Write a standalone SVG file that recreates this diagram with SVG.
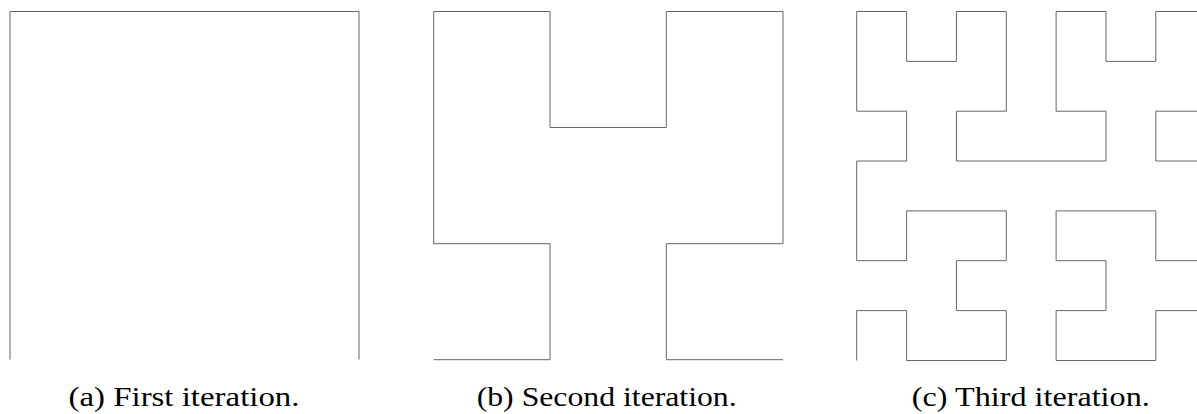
<svg xmlns="http://www.w3.org/2000/svg" width="1197" height="414" viewBox="0 0 1197 414">
<style>
.curve{fill:none;stroke:#666;stroke-width:1;stroke-linejoin:miter}
.cap{font-family:"Liberation Serif","DejaVu Serif",serif;font-size:27px;fill:#000;text-anchor:middle}
</style>
<rect width="1197" height="414" fill="#fff"/>
<g id="panel-a">
<path class="curve" d="M10,359.5 V11.5 H359 V359.5"/>
<text class="cap" x="184" y="406" textLength="231" lengthAdjust="spacingAndGlyphs">(a) First iteration.</text>
</g>
<g id="panel-b">
<path class="curve" d="M433.7,359.7 H550 V243.7 H433.7 V11.5 H550 V127.5 H666.3 V11.5 H783 V243.7 H666.3 V359.7 H783"/>
<text class="cap" x="606.7" y="406" textLength="260" lengthAdjust="spacingAndGlyphs">(b) Second iteration.</text>
</g>
<g id="panel-c">
<path class="curve" d="M856.7,360.5 V310.6 H906.6 V360.5 H1006.3 V310.6 H956.4 V260.7 H1006.3 V210.9 H906.6 V260.7 H856.7 V161 H906.6 V111.2 H856.7 V11.5 H906.6 V61.4 H956.4 V11.5 H1006.3 V111.2 H956.4 V161 H1106 V111.2 H1056.1 V11.5 H1106 V61.4 H1155.8 V11.5 H1205.7 V111.2 H1155.8 V161 H1205.7 V260.7 H1155.8 V210.9 H1056.1 V260.7 H1106 V310.6 H1056.1 V360.5 H1155.8 V310.6 H1205.7 V360.5"/>
<text class="cap" x="1030.8" y="406" textLength="238" lengthAdjust="spacingAndGlyphs">(c) Third iteration.</text>
</g>
</svg>
